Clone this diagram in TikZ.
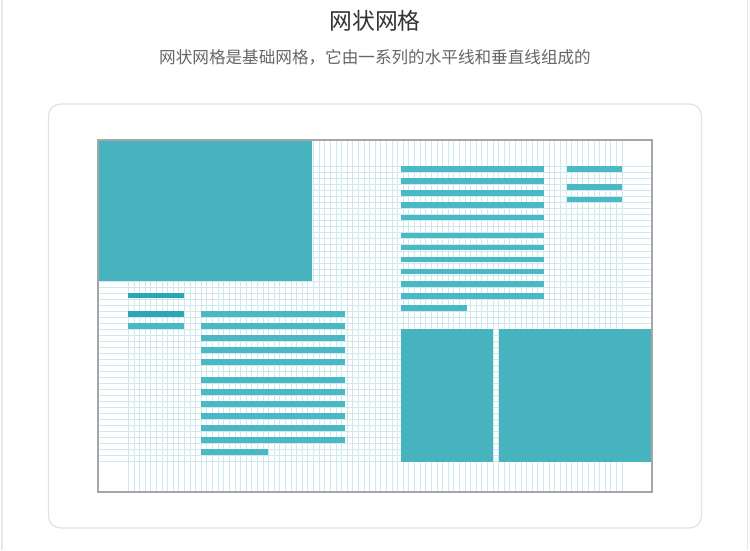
\documentclass[tikz,border=0pt]{standalone}
\usepackage{fontspec}
\newfontfamily\cjk{Noto Sans CJK SC}
\definecolor{teal1}{HTML}{46B3BF}
\definecolor{bar1}{HTML}{4BB8C6}
\definecolor{bardark}{HTML}{2BA6B4}
\definecolor{gridc}{HTML}{CDE9EE}
\definecolor{framec}{HTML}{A6A6A6}
\definecolor{cardc}{HTML}{E2E2E2}
\definecolor{pagec}{HTML}{E8E8E8}
\definecolor{titlec}{HTML}{333333}
\definecolor{subc}{HTML}{666666}
\tikzset{
  gridline/.style={draw=gridc, line width=0.7pt},
  block/.style={fill=teal1},
  txtbar/.style={fill=bar1},
}
\begin{document}
\begin{tikzpicture}[x=1pt,y=-1pt]
\useasboundingbox (0,0) rectangle (750,550);
\fill[white] (0,0) rectangle (750,550);
% page side lines
\draw[pagec, line width=1.5pt] (2,0) -- (2,550);
\draw[pagec, line width=1.5pt] (747.5,0) -- (747.5,550);
% title and subtitle
\node[font=\cjk\fontsize{22.8}{26}\selectfont, text=titlec, inner sep=0pt] (title) at (375,21) {网状网格};
\node[font=\cjk\fontsize{16.6}{19}\selectfont, text=subc, inner sep=0pt] (sub) at (375,57) {网状网格是基础网格，它由一系列的水平线和垂直线组成的};
% card
\draw[cardc, line width=1.2pt, rounded corners=12pt] (48.5,104) rectangle (701.5,528);
% grid
\foreach \i in {0,...,88} \draw[gridline] ({128.3+\i*5.61},140) -- ({128.3+\i*5.61},492);
\foreach \j in {0,...,49} \draw[gridline] (98,{166.5+\j*6.025}) -- (652,{166.5+\j*6.025});
% blocks
\fill[block] (98,140) rectangle (312,281);
\fill[block] (400.5,329.3) rectangle (492.7,461.7);
\fill[block] (499.3,329.3) rectangle (652,461.7);
% right text block
\foreach \k in {0,...,4} \fill[txtbar] (400.5,{166.3+\k*12.05}) rectangle (544,{172+\k*12.05});
\foreach \k in {0,...,5} \fill[txtbar] (400.5,{232.6+\k*12.05}) rectangle (544,{238.3+\k*12.05});
\fill[txtbar] (400.5,304.9) rectangle (467,310.6);
% far right bars
\fill[txtbar] (566.7,166.3) rectangle (621.7,172);
\fill[txtbar] (566.7,184.4) rectangle (621.7,190.1);
\fill[txtbar] (566.7,196.5) rectangle (621.7,202.2);
% left small bars
\fill[bardark] (128.3,292.6) rectangle (184,298.3);
\fill[bardark] (128.3,310.8) rectangle (184,316.5);
\fill[txtbar] (128.3,322.9) rectangle (184,328.6);
% left text block
\foreach \k in {0,...,4} \fill[txtbar] (201,{310.8+\k*12.05}) rectangle (345,{316.5+\k*12.05});
\foreach \k in {0,...,5} \fill[txtbar] (201,{377.1+\k*12.05}) rectangle (345,{382.8+\k*12.05});
\fill[txtbar] (201,449.4) rectangle (268,455.1);
% frame
\draw[framec, line width=1.5pt] (98,140) rectangle (652,492);
\end{tikzpicture}
\end{document}
